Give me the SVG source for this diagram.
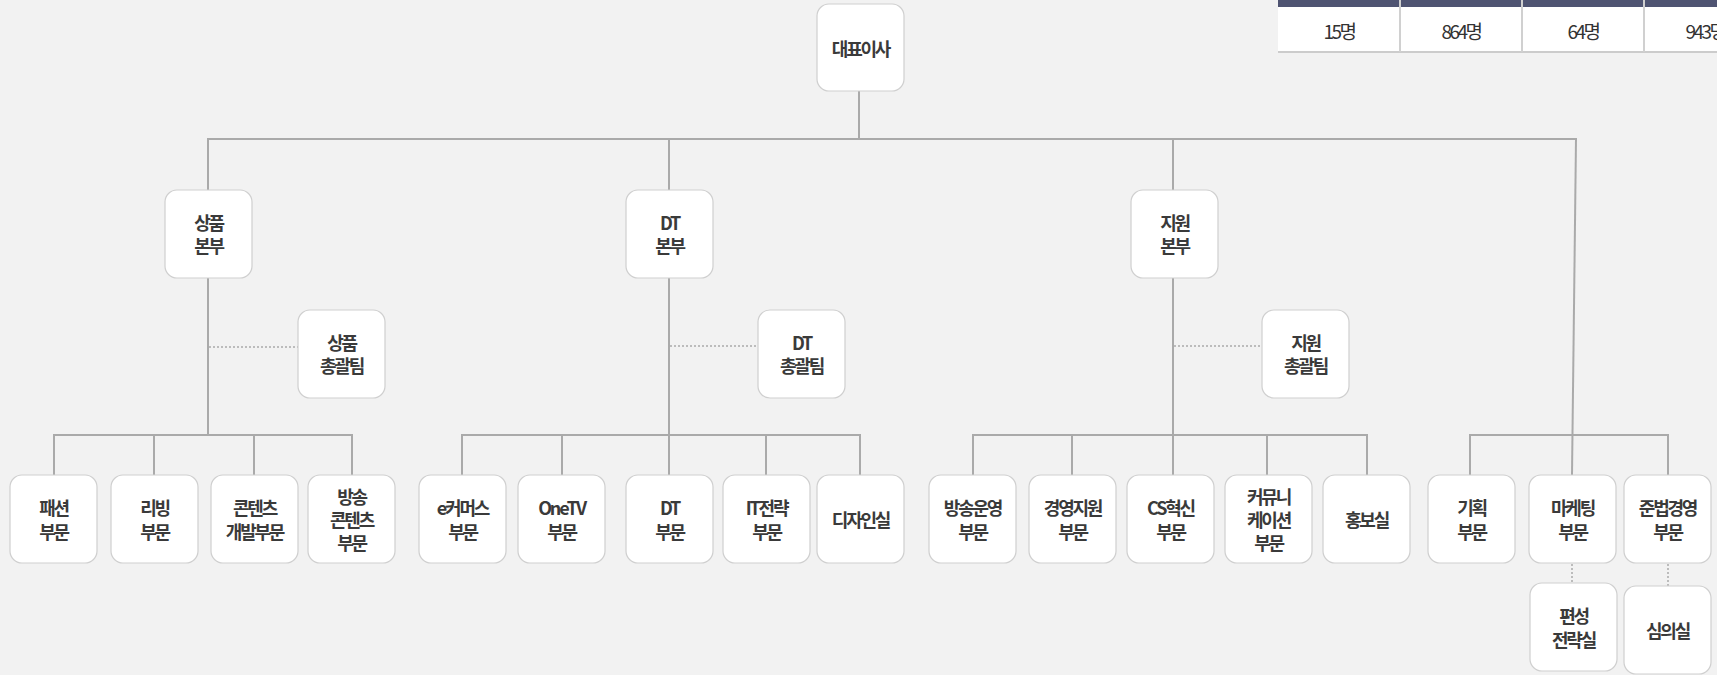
<svg xmlns="http://www.w3.org/2000/svg" width="1717" height="675" viewBox="0 0 1717 675">
<style>
.bx{fill:#fff;stroke:#cfcfcf;stroke-width:1.2}
.t{font-family:"Noto Sans CJK KR","Noto Sans",sans-serif;font-size:18px;font-weight:700;fill:#3a3a3a;text-anchor:middle;dominant-baseline:central;letter-spacing:-2.2px}
.ln{stroke:#aaaaaa;stroke-width:2;fill:none}
.dt{stroke:#aaaaaa;stroke-width:1.5;fill:none;stroke-dasharray:2 2}
.tc{font-family:"Noto Sans CJK KR","Noto Sans",sans-serif;font-size:19px;fill:#333;text-anchor:middle;dominant-baseline:central;letter-spacing:-2.5px}
</style>
<rect width="1717" height="675" fill="#f2f2f2"/>
<g id="table">
<rect x="1278" y="0" width="500" height="52" fill="#fff"/>
<rect x="1278" y="0" width="500" height="7" fill="#4f5472"/>
<line x1="1278" y1="52" x2="1717" y2="52" stroke="#cccccc" stroke-width="2"/>
<line x1="1400" y1="0" x2="1400" y2="52" stroke="#d0d0d0" stroke-width="2"/>
<line x1="1522" y1="0" x2="1522" y2="52" stroke="#d0d0d0" stroke-width="2"/>
<line x1="1644" y1="0" x2="1644" y2="52" stroke="#d0d0d0" stroke-width="2"/>
<text class="tc" x="1339" y="30">15명</text>
<text class="tc" x="1461" y="30">864명</text>
<text class="tc" x="1583" y="30">64명</text>
<text class="tc" x="1705" y="30">943명</text>
</g>
<g id="connectors">
<line class="ln" x1="859" y1="91" x2="859" y2="139"/>
<line class="ln" x1="207" y1="139" x2="1577" y2="139"/>
<line class="ln" x1="208" y1="139" x2="208" y2="190"/>
<line class="ln" x1="669" y1="139" x2="669" y2="190"/>
<line class="ln" x1="1173" y1="139" x2="1173" y2="190"/>
<line class="ln" x1="1576" y1="139" x2="1572" y2="475"/>
<line class="ln" x1="208" y1="278" x2="208" y2="435"/>
<line class="ln" x1="669" y1="278" x2="669" y2="475"/>
<line class="ln" x1="1173" y1="278" x2="1173" y2="475"/>
<line class="dt" x1="209" y1="347" x2="298" y2="347"/>
<line class="dt" x1="670" y1="346" x2="758" y2="346"/>
<line class="dt" x1="1174" y1="346" x2="1262" y2="346"/>
<polyline class="ln" points="54,475 54,435 352,435 352,475"/>
<line class="ln" x1="154" y1="435" x2="154" y2="475"/>
<line class="ln" x1="254" y1="435" x2="254" y2="475"/>
<polyline class="ln" points="462,475 462,435 860,435 860,475"/>
<line class="ln" x1="562" y1="435" x2="562" y2="475"/>
<line class="ln" x1="766" y1="435" x2="766" y2="475"/>
<polyline class="ln" points="973,475 973,435 1367,435 1367,475"/>
<line class="ln" x1="1072" y1="435" x2="1072" y2="475"/>
<line class="ln" x1="1267" y1="435" x2="1267" y2="475"/>
<polyline class="ln" points="1470,475 1470,435 1668,435 1668,475"/>
<line class="dt" x1="1572" y1="564" x2="1572" y2="583"/>
<line class="dt" x1="1668" y1="564" x2="1668" y2="586"/>
</g>
<g id="ceo"><rect class="bx" x="817" y="4" width="87" height="87" rx="12"/><text class="t" x="860.5" y="47.5">대표이사</text></g>
<g id="sangpum-bonbu"><rect class="bx" x="165" y="190" width="87" height="88" rx="12"/><text class="t" x="208.5" y="222">상품</text><text class="t" x="208.5" y="245">본부</text></g>
<g id="dt-bonbu"><rect class="bx" x="626" y="190" width="87" height="88" rx="12"/><text class="t" x="669.5" y="222">DT</text><text class="t" x="669.5" y="245">본부</text></g>
<g id="jiwon-bonbu"><rect class="bx" x="1131" y="190" width="87" height="88" rx="12"/><text class="t" x="1174.5" y="222">지원</text><text class="t" x="1174.5" y="245">본부</text></g>
<g id="sangpum-team"><rect class="bx" x="298" y="310" width="87" height="88" rx="12"/><text class="t" x="341.5" y="342">상품</text><text class="t" x="341.5" y="365">총괄팀</text></g>
<g id="dt-team"><rect class="bx" x="758" y="310" width="87" height="88" rx="12"/><text class="t" x="801.5" y="342">DT</text><text class="t" x="801.5" y="365">총괄팀</text></g>
<g id="jiwon-team"><rect class="bx" x="1262" y="310" width="87" height="88" rx="12"/><text class="t" x="1305.5" y="342">지원</text><text class="t" x="1305.5" y="365">총괄팀</text></g>
<g id="fashion"><rect class="bx" x="10" y="475" width="87" height="88" rx="12"/><text class="t" x="53.5" y="507">패션</text><text class="t" x="53.5" y="531">부문</text></g>
<g id="living"><rect class="bx" x="111" y="475" width="87" height="88" rx="12"/><text class="t" x="154.5" y="507">리빙</text><text class="t" x="154.5" y="531">부문</text></g>
<g id="content-dev"><rect class="bx" x="211" y="475" width="87" height="88" rx="12"/><text class="t" x="254.5" y="507">콘텐츠</text><text class="t" x="254.5" y="531">개발부문</text></g>
<g id="broadcast-content"><rect class="bx" x="308" y="475" width="87" height="88" rx="12"/><text class="t" x="351.5" y="496">방송</text><text class="t" x="351.5" y="519">콘텐츠</text><text class="t" x="351.5" y="542">부문</text></g>
<g id="ecommerce"><rect class="bx" x="419" y="475" width="87" height="88" rx="12"/><text class="t" x="462.5" y="507">e커머스</text><text class="t" x="462.5" y="531">부문</text></g>
<g id="onetv"><rect class="bx" x="518" y="475" width="87" height="88" rx="12"/><text class="t" x="561.5" y="507">OneTV</text><text class="t" x="561.5" y="531">부문</text></g>
<g id="dt"><rect class="bx" x="626" y="475" width="87" height="88" rx="12"/><text class="t" x="669.5" y="507">DT</text><text class="t" x="669.5" y="531">부문</text></g>
<g id="it"><rect class="bx" x="723" y="475" width="87" height="88" rx="12"/><text class="t" x="766.5" y="507">IT전략</text><text class="t" x="766.5" y="531">부문</text></g>
<g id="design"><rect class="bx" x="817" y="475" width="87" height="88" rx="12"/><text class="t" x="860.5" y="519">디자인실</text></g>
<g id="broadcast-ops"><rect class="bx" x="929" y="475" width="87" height="88" rx="12"/><text class="t" x="972.5" y="507">방송운영</text><text class="t" x="972.5" y="531">부문</text></g>
<g id="mgmt-support"><rect class="bx" x="1029" y="475" width="87" height="88" rx="12"/><text class="t" x="1072.5" y="507">경영지원</text><text class="t" x="1072.5" y="531">부문</text></g>
<g id="cs"><rect class="bx" x="1127" y="475" width="87" height="88" rx="12"/><text class="t" x="1170.5" y="507">CS혁신</text><text class="t" x="1170.5" y="531">부문</text></g>
<g id="comm"><rect class="bx" x="1225" y="475" width="87" height="88" rx="12"/><text class="t" x="1268.5" y="496">커뮤니</text><text class="t" x="1268.5" y="519">케이션</text><text class="t" x="1268.5" y="542">부문</text></g>
<g id="pr"><rect class="bx" x="1323" y="475" width="87" height="88" rx="12"/><text class="t" x="1366.5" y="519">홍보실</text></g>
<g id="planning"><rect class="bx" x="1428" y="475" width="87" height="88" rx="12"/><text class="t" x="1471.5" y="507">기획</text><text class="t" x="1471.5" y="531">부문</text></g>
<g id="marketing"><rect class="bx" x="1529" y="475" width="87" height="88" rx="12"/><text class="t" x="1572.5" y="507">마케팅</text><text class="t" x="1572.5" y="531">부문</text></g>
<g id="compliance"><rect class="bx" x="1624" y="475" width="87" height="88" rx="12"/><text class="t" x="1667.5" y="507">준법경영</text><text class="t" x="1667.5" y="531">부문</text></g>
<g id="scheduling"><rect class="bx" x="1530" y="583" width="87" height="88" rx="12"/><text class="t" x="1573.5" y="615">편성</text><text class="t" x="1573.5" y="639">전략실</text></g>
<g id="review"><rect class="bx" x="1624" y="586" width="87" height="88" rx="12"/><text class="t" x="1667.5" y="630">심의실</text></g>
</svg>
